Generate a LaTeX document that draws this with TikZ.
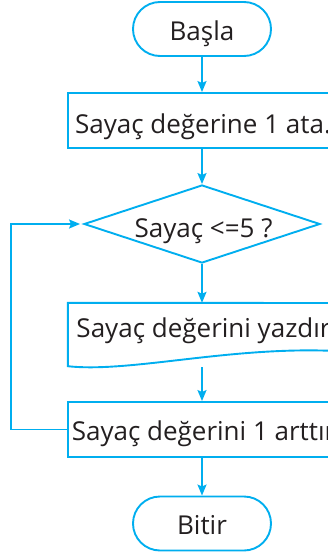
\documentclass[tikz,border=0pt]{standalone}
\usepackage{fontspec}
\setmainfont{Open Sans}
\usetikzlibrary{arrows.meta,shapes.geometric}
\definecolor{flowblue}{RGB}{0,174,239}
\definecolor{ink}{RGB}{35,31,32}
\begin{document}
\begin{tikzpicture}[x=1pt,y=-1pt,
  line/.style={draw=flowblue,line width=1.9pt},
  arr/.style={line,-{Stealth[length=11pt,width=9pt,inset=2pt]}},
  term/.style={line,rectangle,rounded corners=27pt,minimum width=138pt,minimum height=54pt,inner sep=0pt},
  proc/.style={line,rectangle,minimum width=268pt,minimum height=55pt,inner sep=0pt},
  decis/.style={line,diamond,minimum width=236pt,minimum height=78pt,inner sep=0pt},
  txt/.style={anchor=base,inner sep=0pt,text=ink,font=\fontsize{26}{30}\selectfont}]
\useasboundingbox (0,0) rectangle (327,554);
\node[term] (start) at (202,29) {};
\node[proc] (b1) at (202,120.5) {};
\node[decis] (dec) at (202,224) {};
\node[minimum width=268pt,minimum height=63pt,inner sep=0pt] (doc) at (202,334.5) {};
\draw[line] (doc.south west) -- (doc.north west) -- (336,303) -- (336,351)
  .. controls (230,346) and (130,373) .. (doc.south west) -- cycle;
\node[proc] (b3) at (202,429.5) {};
\node[term] (end) at (202,523.5) {};
\node[txt] (t0) at (202,40) {Başla};
\node[txt] (t1) at (203,133) {Sayaç değerine 1 ata.};
\node[txt] (t2) at (203.5,237) {Sayaç <=5 ?};
\node[txt] (t3) at (207,337) {Sayaç değerini yazdır.};
\node[txt] (t4) at (207,440) {Sayaç değerini 1 arttır.};
\node[txt] (t5) at (202,534) {Bitir};
\draw[arr] (start.south) -- (b1.north);
\draw[arr] (b1.south) -- (dec.north);
\draw[arr] (dec.south) -- (doc.north);
\draw[arr] ([yshift=-1pt]doc.south) -- (b3.north);
\draw[arr] (b3.south) -- (end.north);
\draw[arr,shorten >=3pt] (b3.west) -- ++(-56,0) |- (dec.west);
\end{tikzpicture}
\end{document}
